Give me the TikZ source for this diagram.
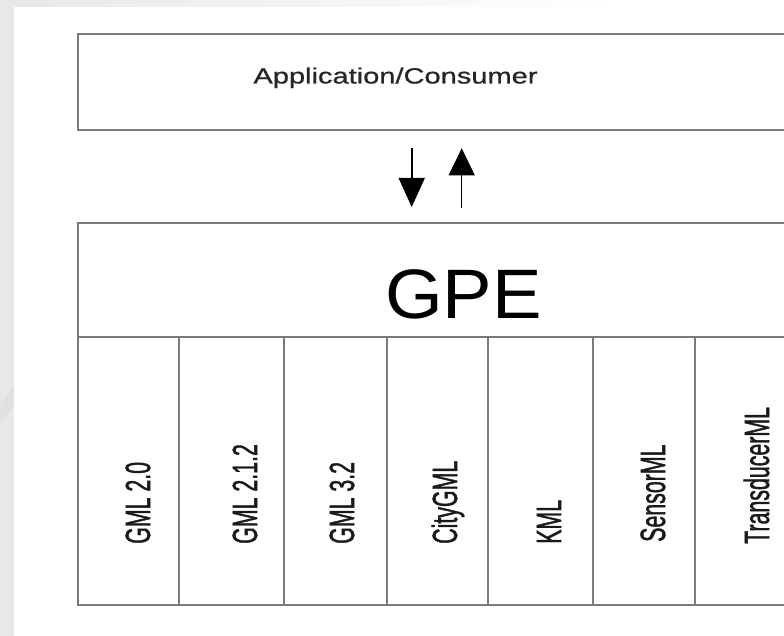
\documentclass[tikz,border=0pt]{standalone}
\usepackage{graphicx}
\usepackage{fontspec}
\setmainfont{Liberation Sans}
\newfontfamily\labelfont[FakeBold=1.6]{Liberation Sans}
\newfontfamily\appfont[FakeBold=0.6]{Liberation Sans}
\usetikzlibrary{arrows.meta}
\definecolor{frame}{HTML}{7A7A7A}
\definecolor{bggrey}{HTML}{E8E8E8}
\tikzset{
  box/.style={draw=frame, line width=1.8pt, fill=white, rectangle, inner sep=0pt, anchor=north west},
  collabel/.style={rotate=90, anchor=base west, inner sep=0pt, text=black!90,
    font=\labelfont\fontsize{35}{35}\selectfont},
  arr/.style={-{Triangle[width=26pt,length=29pt]}, black},
}
\newcommand{\narrow}[1]{\scalebox{0.61}[1]{#1}}
\begin{document}
\begin{tikzpicture}[x=1pt, y=-1pt]
\clip (0,0) rectangle (784,636);
\fill[bggrey] (0,0) rectangle (784,636);
\shade[left color=bggrey, right color=white] (14,0) rectangle (620,7);
\fill[white] (14,7) rectangle (784,636);
\fill[white] (620,0) rectangle (784,7);
% faint pattern on the left strip
\foreach \k in {0,...,6} {
  \draw[white!85!black, line width=0.6pt] (0,{405+3*\k}) .. controls (6,{400+3*\k}) and (10,{392+3*\k}) .. (14,{386+3*\k});
}
% top box
\node[box, minimum width=723pt, minimum height=95.5pt] (app) at (76.7,33.5) {};
\node[inner sep=0pt, anchor=base, text=black!85, font=\appfont\fontsize{22}{22}\selectfont] (applabel) at (395.5,83.5) {\scalebox{1.32}[1]{Application/Consumer}};
% GPE header
\node[box, minimum width=723.3pt, minimum height=113.7pt] (gpe) at (76.7,222) {};
\node[inner sep=0pt, anchor=base, text=black, font=\fontsize{70}{70}\selectfont] (gpelabel) at (463.5,318) {\scalebox{1.06}[1]{GPE}};
% columns
\node[box, minimum width=101.6pt, minimum height=268.3pt] (c1) at (76.7,335.7) {};
\node[box, minimum width=105pt, minimum height=268.3pt] (c2) at (178.3,335.7) {};
\node[box, minimum width=102.4pt, minimum height=268.3pt] (c3) at (283.3,335.7) {};
\node[box, minimum width=101.6pt, minimum height=268.3pt] (c4) at (385.7,335.7) {};
\node[box, minimum width=104.4pt, minimum height=268.3pt] (c5) at (487.3,335.7) {};
\node[box, minimum width=102.3pt, minimum height=268.3pt] (c6) at (591.7,335.7) {};
\node[box, minimum width=110pt, minimum height=268.3pt] (c7) at (694,335.7) {};
\node[collabel] (l1) at (150,544) {\narrow{GML 2.0}};
\node[collabel] (l2) at (257,544) {\narrow{GML 2.1.2}};
\node[collabel] (l3) at (354,544) {\narrow{GML 3.2}};
\node[collabel] (l4) at (457,544) {\narrow{CityGML}};
\node[collabel] (l5) at (561,544) {\narrow{KML}};
\node[collabel] (l6) at (665,542) {\narrow{SensorML}};
\node[collabel] (l7) at (769,544) {\narrow{TransducerML}};
% arrows
\coordinate (downstart) at (411.7,148);
\coordinate (downend) at (411.7,207);
\coordinate (upstart) at (461.7,208);
\coordinate (upend) at (461.7,148.3);
\draw[arr, line width=1.6pt] (downstart) -- (downend);
\draw[-{Triangle[width=26pt,length=27pt]}, black, line width=1.1pt] (upstart) -- (upend);
\end{tikzpicture}
\end{document}
